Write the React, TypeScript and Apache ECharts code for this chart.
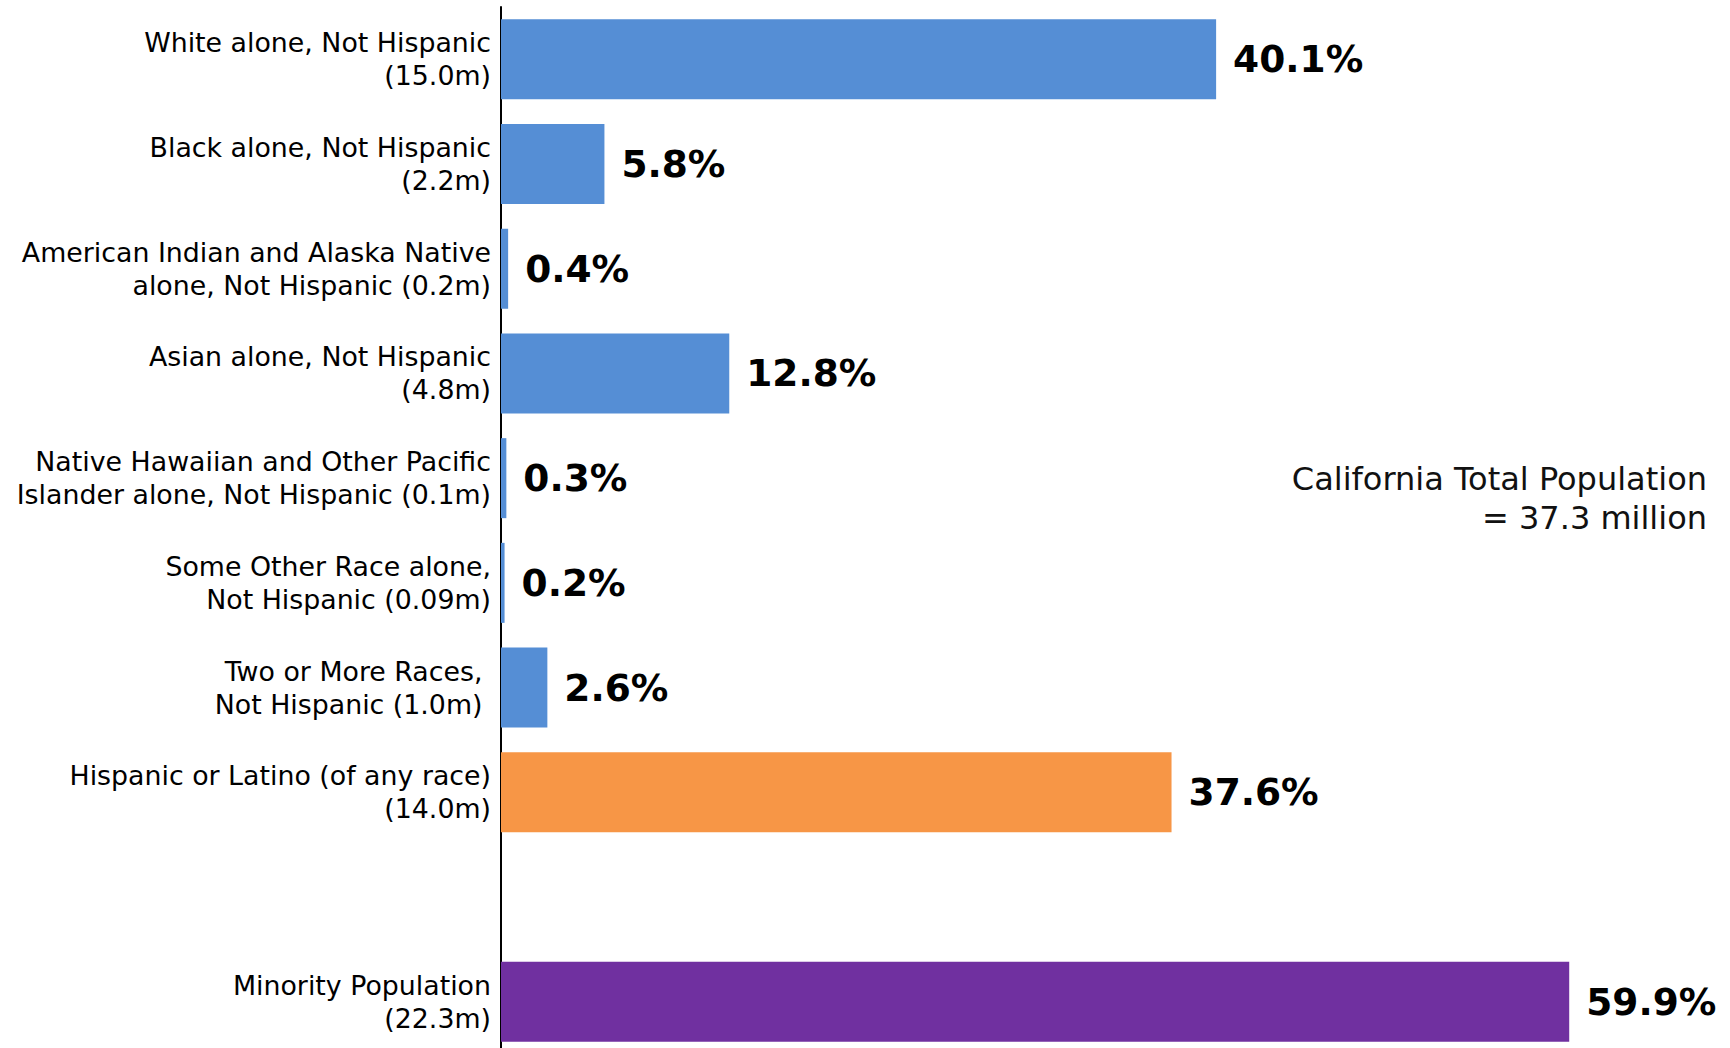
import React, { useEffect, useRef } from "react";
import * as echarts from "echarts";

const categories: string[] = [
  "White alone, Not Hispanic\n(15.0m)",
  "Black alone, Not Hispanic\n(2.2m)",
  "American Indian and Alaska Native\nalone, Not Hispanic (0.2m)",
  "Asian alone, Not Hispanic\n(4.8m)",
  "Native Hawaiian and Other Pacific\nIslander alone, Not Hispanic (0.1m)",
  "Some Other Race alone,\nNot Hispanic (0.09m)",
  "Two or More Races, \nNot Hispanic (1.0m) ",
  "Hispanic or Latino (of any race)\n(14.0m)",
  "",
  "Minority Population\n(22.3m)",
];

const percentValues: (number | null)[] = [40.1, 5.8, 0.4, 12.8, 0.3, 0.2, 2.6, 37.6, null, 59.9];

const barColors: string[] = [
  "#558ED5",
  "#558ED5",
  "#558ED5",
  "#558ED5",
  "#558ED5",
  "#558ED5",
  "#558ED5",
  "#F79646",
  "#558ED5",
  "#7030A0",
];

const annotationLines: string[] = ["California Total Population", "= 37.3 million"];

const FONT = "DejaVu Sans";

export default function App() {
  const ref = useRef<HTMLDivElement>(null);

  useEffect(() => {
    if (!ref.current) return;
    const chart = echarts.init(ref.current, undefined, { renderer: "svg" });
    const data = percentValues.map((v, i) =>
      v === null ? null : { value: v, itemStyle: { color: barColors[i] } }
    );
    chart.setOption({
      animation: false,
      backgroundColor: "#ffffff",
      grid: { left: 501, top: 7, height: 1047, width: 1070, containLabel: false },
      xAxis: {
        type: "value",
        min: 0,
        max: 60,
        show: false,
      },
      yAxis: {
        type: "category",
        inverse: true,
        data: categories,
        axisLine: { show: true, lineStyle: { color: "#000000", width: 2 } },
        axisTick: { show: false },
        splitLine: { show: false },
        axisLabel: {
          interval: 0,
          margin: 10,
          color: "#000000",
          fontFamily: FONT,
          fontSize: 26.8,
          lineHeight: 33,
          align: "right",
        },
      },
      series: [
        {
          type: "bar",
          data,
          barWidth: 80,
          label: {
            show: true,
            position: "right",
            distance: 17,
            color: "#000000",
            fontFamily: FONT,
            fontWeight: "bold",
            fontSize: 37.5,
            formatter: (p: any) =>
              p.value === null || p.value === undefined ? "" : `${Number(p.value).toFixed(1)}%`,
          },
        },
      ],
      graphic: annotationLines.map((t, i) => ({
        type: "text",
        x: 1707,
        y: 479 + i * 38.5,
        style: {
          text: t,
          fontFamily: FONT,
          fontSize: 32,
          fill: "#111111",
          align: "right",
          verticalAlign: "middle",
        },
      })),
    });
    return () => chart.dispose();
  }, []);

  return (
    <div
      ref={ref}
      style={{ position: "fixed", left: 0, top: 0, width: 1730, height: 1070, background: "#fff" }}
    />
  );
}
